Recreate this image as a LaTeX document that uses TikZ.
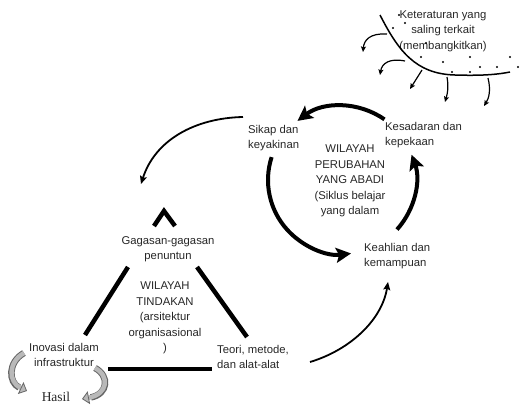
\documentclass[tikz,border=0pt]{standalone}
\usepackage{fontspec}
\setmainfont{Liberation Sans}
\newfontfamily\hasilfont{Liberation Serif}
\usetikzlibrary{arrows.meta}
\begin{document}
\begin{tikzpicture}[x=1pt,y=-1pt,
  lbl/.style={inner sep=0pt, font=\fontsize{11.3}{15.5}\selectfont, text=black!85},
  cyc/.style={line width=4pt, -{Stealth[length=15pt,width=15pt,inset=3pt]}},
  thinarr/.style={line width=1.8pt, -{Stealth[length=8pt,width=7pt,inset=1.5pt]}},
  tinyarr/.style={line width=1.2pt, -{Stealth[length=5.5pt,width=5pt,inset=1pt]}},
  tri/.style={line width=4.5pt},
  curlout/.style={line width=6.5pt, black!60},
  curlin/.style={line width=4.5pt, gray!55},
  dotmark/.style={fill=black, radius=1.2pt},
]
\useasboundingbox (0,0) rectangle (520,407);

% ---- top right: order curve, dots, small arrows
\node[lbl, align=center] (kt) at (443,31) {Keteraturan yang\\saling terkait\\(membangkitkan)};
\draw[line width=1.5pt] (380,15) .. controls (398,50) and (415,74) .. (455,75)
      .. controls (485,76) and (500,74) .. (510,72);
\foreach \p in {(399,15),(393,28),(405,23),(421,57),(426,43),(443,62),(452,72),
                (470,57),(470,72),(480,67),(497,67),(510,57),(518,67)}
  \fill[dotmark] \p circle;
\draw[tinyarr] (387,34) .. controls (370,33) and (364,40) .. (363,52);
\draw[tinyarr] (405,61) .. controls (390,58) and (382,63) .. (380,75);
\draw[tinyarr] (422,70) -- (410,89);
\draw[tinyarr] (447,77) .. controls (449,88) and (447,95) .. (445,102);
\draw[tinyarr] (488,78) .. controls (491,90) and (489,98) .. (484,106);

% ---- cycle
\coordinate (c) at (342,180);
\node[lbl, align=left, anchor=west] (sk) at (248,138) {Sikap dan\\keyakinan};
\node[lbl, align=left, anchor=west] (ks) at (385,135) {Kesadaran dan\\kepekaan};
\node[lbl, align=left, anchor=west] (kh) at (364,256) {Keahlian dan\\kemampuan};
\node[lbl, align=center] (wp) at (350,181) {WILAYAH\\PERUBAHAN\\YANG ABADI\\(Siklus belajar\\yang dalam};
\draw[cyc] (c) ++(-55:74) arc[start angle=-55, end angle=-127, radius=74];
\draw[cyc] (c) ++(-162:74) arc[start angle=-162, end angle=-277, radius=74];
\draw[cyc] (c) ++(42:74) arc[start angle=42, end angle=-20, radius=74];

% ---- connectors between regions
\coordinate (s1) at (243,117);
\coordinate (e1) at (141,184);
\draw[thinarr] (s1) .. controls (195,118) and (155,140) .. (e1);
\coordinate (s2) at (310,362);
\coordinate (e2) at (388,282);
\draw[thinarr] (s2) .. controls (350,350) and (382,320) .. (e2);

% ---- triangle
\coordinate (apL) at (154,226);
\coordinate (ap) at (164,211);
\coordinate (apR) at (175,226);
\draw[tri] (apL) -- (ap) -- (apR);
\draw[tri] (128,267) -- (85,335);
\draw[tri] (197,267) -- (247,337);
\draw[tri] (108,369) -- (212,369);
\node[lbl, align=center] (gg) at (168,249) {Gagasan-gagasan\\penuntun};
\node[lbl, align=center] (wt) at (165,318) {WILAYAH\\TINDAKAN\\(arsitektur\\organisasional\\)};
\node[lbl, align=center] (inv) at (64,355) {Inovasi dalam\\infrastruktur};
\node[lbl, align=left, anchor=west] (te) at (217,357) {Teori, metode,\\dan alat-alat};

% ---- outcome
\node[inner sep=0pt, font=\hasilfont\fontsize{13.5}{15}\selectfont, text=black!85] (hs) at (56,397) {Hasil};
\draw[curlout, shorten >=3pt] (24,353) .. controls (8,362) and (8,382) .. (22,389);
\draw[curlin, -{Triangle[length=7pt,width=13pt,fill=gray!55,color=black!60,line width=0.8pt]}]
   (24,353) .. controls (8,362) and (8,382) .. (27,391);
\draw[curlout, shorten >=3pt] (95,368) .. controls (110,376) and (108,394) .. (88,398);
\draw[curlin, -{Triangle[length=7pt,width=13pt,fill=gray!55,color=black!60,line width=0.8pt]}]
   (95,368) .. controls (110,376) and (108,394) .. (82,399);
\end{tikzpicture}
\end{document}
